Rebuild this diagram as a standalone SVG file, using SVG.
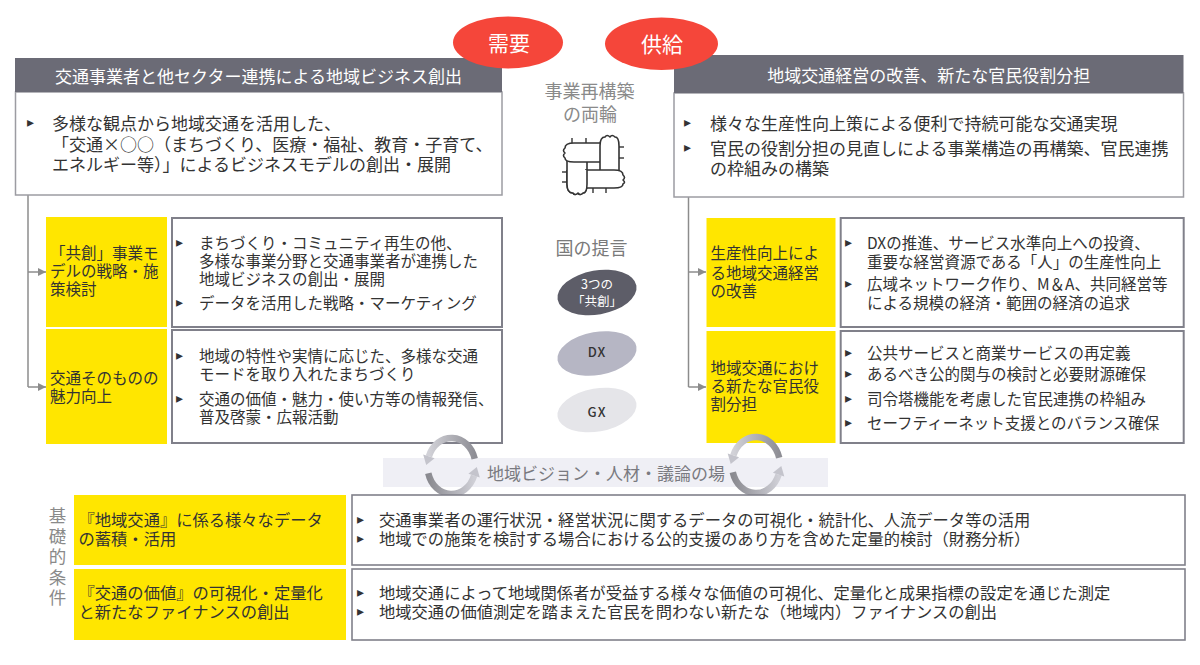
<svg xmlns="http://www.w3.org/2000/svg" width="1200" height="665" viewBox="0 0 1200 665">
<defs>
<style>
text{font-family:"Noto Sans CJK JP","Noto Sans",sans-serif;dominant-baseline:central}
.hd{fill:#6b6b76}
.hdt{fill:#fff;font-size:17px;text-anchor:middle}
.box{fill:#fff;stroke:#9c9ca2;stroke-width:1.5}
.wb{fill:#fff;stroke:#80808a;stroke-width:2}
.yb{fill:#ffe600}
.b17{fill:#333;font-size:17px}
.b155{fill:#333;font-size:15.5px}
.b163{fill:#333;font-size:16.3px}
.bul{font-family:"DejaVu Sans",sans-serif;font-size:14px;fill:#333}
.gl{fill:#8a8a8a;font-size:18px;text-anchor:middle}
.conn{stroke:#8c8c8c;stroke-width:1.5;fill:none}
.red{fill:#f5463a}
.redt{fill:#fff;font-size:21px;text-anchor:middle}
.hand{fill:#fff;stroke:#333;stroke-width:1.6;stroke-linejoin:round}
.tick{stroke:#333;stroke-width:1.4}
</style>
<marker id="ah" markerWidth="8" markerHeight="8" refX="8" refY="4" orient="auto" markerUnits="userSpaceOnUse"><path d="M0,0 L8,4 L0,8 z" fill="#8c8c8c"/></marker>
<linearGradient id="gTop" x1="0" y1="0" x2="1" y2="0"><stop offset="0" stop-color="#d2d2d8"/><stop offset="1" stop-color="#8e8e95"/></linearGradient>
<linearGradient id="gBot" x1="0" y1="0" x2="1" y2="0"><stop offset="0" stop-color="#8a8a90"/><stop offset="1" stop-color="#cfcfd6"/></linearGradient>
<g id="cyc">
<path d="M23.2,-7.2 A24,28 0 0 0 -22.6,-9.6" fill="none" stroke="url(#gTop)" stroke-width="6.5"/>
<polygon points="-16.9,-7.8 -28.3,-11.4 -25.3,-1" fill="#c4c4cc"/>
<path d="M-23.2,7.2 A24,28 0 0 0 22.6,9.6" fill="none" stroke="url(#gBot)" stroke-width="6.5"/>
<polygon points="28.3,11.4 16.9,7.8 25.3,1" fill="#c4c4cc"/>
</g>
</defs>
<rect width="1200" height="665" fill="#fff"/>

<g id="connectors">
<path class="conn" d="M28,195 V387"/>
<path class="conn" d="M28,272 H46" marker-end="url(#ah)"/>
<path class="conn" d="M28,387 H46" marker-end="url(#ah)"/>
<path class="conn" d="M688.5,197 V387"/>
<path class="conn" d="M688.5,272 H706" marker-end="url(#ah)"/>
<path class="conn" d="M688.5,387 H706" marker-end="url(#ah)"/>
</g>

<g id="demand-box">
<rect class="box" x="15.5" y="92" width="486.5" height="103"/>
<rect class="hd" x="15" y="58" width="487" height="34"/>
<text class="hdt" x="258.5" y="75">交通事業者と他セクター連携による地域ビジネス創出</text>
<text class="bul" x="27" y="122">▸</text>
<text class="b17"><tspan x="52" y="122">多様な観点から地域交通を活用した、</tspan><tspan x="52" y="143">「交通×○○（まちづくり、医療・福祉、教育・子育て、</tspan><tspan x="52" y="163">エネルギー等）」によるビジネスモデルの創出・展開</tspan></text>
</g>

<g id="supply-box">
<rect class="box" x="674" y="93" width="509.5" height="104"/>
<rect class="hd" x="674" y="55" width="509.5" height="38"/>
<text class="hdt" x="928.7" y="74">地域交通経営の改善、新たな官民役割分担</text>
<text class="bul"><tspan x="684" y="122">▸</tspan><tspan x="684" y="147">▸</tspan></text>
<text class="b17"><tspan x="710" y="122">様々な生産性向上策による便利で持続可能な交通実現</tspan><tspan x="710" y="147">官民の役割分担の見直しによる事業構造の再構築、官民連携</tspan><tspan x="710" y="167">の枠組みの構築</tspan></text>
</g>

<g id="kyoso-model">
<rect class="yb" x="46" y="217" width="121" height="110"/>
<text class="b155"><tspan x="50" y="252">「共創」事業モ</tspan><tspan x="50" y="270">デルの戦略・施</tspan><tspan x="50" y="288">策検討</tspan></text>
</g>
<g id="kyoso-model-detail">
<rect class="wb" x="172" y="218" width="330" height="109"/>
<text class="bul"><tspan x="176" y="242">▸</tspan><tspan x="176" y="302">▸</tspan></text>
<text class="b155"><tspan x="199" y="242">まちづくり・コミュニティ再生の他、</tspan><tspan x="199" y="260">多様な事業分野と交通事業者が連携した</tspan><tspan x="199" y="278">地域ビジネスの創出・展開</tspan><tspan x="199" y="302">データを活用した戦略・マーケティング</tspan></text>
</g>

<g id="transport-appeal">
<rect class="yb" x="46" y="329" width="121" height="115"/>
<text class="b155"><tspan x="50" y="377">交通そのものの</tspan><tspan x="50" y="395">魅力向上</tspan></text>
</g>
<g id="transport-appeal-detail">
<rect class="wb" x="172" y="330" width="330" height="113"/>
<text class="bul"><tspan x="176" y="355">▸</tspan><tspan x="176" y="398">▸</tspan></text>
<text class="b155"><tspan x="199" y="355">地域の特性や実情に応じた、多様な交通</tspan><tspan x="199" y="373">モードを取り入れたまちづくり</tspan><tspan x="199" y="398">交通の価値・魅力・使い方等の情報発信、</tspan><tspan x="199" y="416">普及啓蒙・広報活動</tspan></text>
</g>

<g id="productivity">
<rect class="yb" x="706.5" y="218" width="129" height="109"/>
<text class="b155"><tspan x="710.5" y="252">生産性向上によ</tspan><tspan x="710.5" y="272">る地域交通経営</tspan><tspan x="710.5" y="290">の改善</tspan></text>
</g>
<g id="productivity-detail">
<rect class="wb" x="840.7" y="218" width="343" height="109"/>
<text class="bul"><tspan x="845" y="242">▸</tspan><tspan x="845" y="283">▸</tspan></text>
<text class="b155"><tspan x="867" y="242">DXの推進、サービス水準向上への投資、</tspan><tspan x="867" y="261">重要な経営資源である「人」の生産性向上</tspan><tspan x="867" y="283">広域ネットワーク作り、M＆A、共同経営等</tspan><tspan x="867" y="302">による規模の経済・範囲の経済の追求</tspan></text>
</g>

<g id="role-sharing">
<rect class="yb" x="706.5" y="331" width="129" height="112"/>
<text class="b155"><tspan x="710.5" y="367">地域交通におけ</tspan><tspan x="710.5" y="385">る新たな官民役</tspan><tspan x="710.5" y="403">割分担</tspan></text>
</g>
<g id="role-sharing-detail">
<rect class="wb" x="840.7" y="331" width="343" height="112"/>
<text class="bul"><tspan x="845" y="352">▸</tspan><tspan x="845" y="373">▸</tspan><tspan x="845" y="398">▸</tspan><tspan x="845" y="422">▸</tspan></text>
<text class="b155"><tspan x="867" y="352">公共サービスと商業サービスの再定義</tspan><tspan x="867" y="373">あるべき公的関与の検討と必要財源確保</tspan><tspan x="867" y="398">司令塔機能を考慮した官民連携の枠組み</tspan><tspan x="867" y="422">セーフティーネット支援とのバランス確保</tspan></text>
</g>

<g id="demand-tag">
<ellipse class="red" cx="508" cy="42.5" rx="55" ry="26"/>
<text class="redt" x="509" y="42">需要</text>
</g>
<g id="supply-tag">
<ellipse class="red" cx="661.5" cy="43.7" rx="56.5" ry="26.3"/>
<text class="redt" x="662" y="43.3">供給</text>
</g>

<g id="two-wheels">
<text class="gl"><tspan x="589.5" y="90">事業再構築</tspan><tspan x="590" y="113">の両輪</tspan></text>
<g id="hands-icon">
<path class="hand" d="M567,160 L567,184 Q567,193 573,193 Q575,196 578,193 Q580,196 583,193 Q587,193 587,184 L587,160"/>
<path class="hand" d="M602,143 L574,143 Q565,143 565,148 Q562,150.5 565,153 Q562,155.5 565,158 Q565,162 574,162 L602,162"/>
<path class="hand" d="M600,175 L600,146 Q600,137 605,137 Q607,134 610,137 Q612,134 615,137 Q619,137 619,146 L619,175"/>
<path class="hand" d="M585,170 L614,170 Q623,170 623,175 Q626,177.5 623,180 Q626,182.5 623,184 Q623,188 614,188 L585,188"/>
<path class="hand" d="M567,170 L567,184 Q567,193 573,193 Q575,196 578,193 Q580,196 583,193 Q587,193 587,184 L587,170"/>
<line class="tick" x1="572" y1="138" x2="572" y2="143"/>
<line class="tick" x1="586" y1="138" x2="586" y2="143"/>
<line class="tick" x1="619" y1="147" x2="624" y2="147"/>
<line class="tick" x1="619" y1="158" x2="624" y2="158"/>
<line class="tick" x1="593" y1="188" x2="593" y2="193"/>
<line class="tick" x1="606" y1="188" x2="606" y2="193"/>
<line class="tick" x1="562" y1="172" x2="567" y2="172"/>
<line class="tick" x1="562" y1="182" x2="567" y2="182"/>
</g>
</g>

<g id="national-proposal">
<text class="gl" x="591.5" y="247" style="fill:#7a7a7a">国の提言</text>
</g>
<g id="kyoso3">
<ellipse cx="597" cy="292.5" rx="40" ry="22" fill="#5d5d68" transform="rotate(-10 597 292.5)"/>
<text fill="#fff" font-size="12.5" text-anchor="middle"><tspan x="597" y="283">3つの</tspan><tspan x="597" y="300">「共創」</tspan></text>
</g>
<g id="dx">
<ellipse cx="597" cy="353.5" rx="40" ry="21.5" fill="#b6b6c4" transform="rotate(-10 597 353.5)"/>
<text x="597" y="351" fill="#333" font-size="13" font-weight="500" letter-spacing="1" text-anchor="middle">DX</text>
</g>
<g id="gx">
<ellipse cx="597" cy="410" rx="40" ry="21.5" fill="#e5e5e9" transform="rotate(-10 597 410)"/>
<text x="597" y="411" fill="#333" font-size="13" font-weight="500" letter-spacing="1" text-anchor="middle">GX</text>
</g>

<g id="vision-band">
<rect x="383" y="458" width="445" height="29" fill="#efeff5"/>
<text x="606" y="472" fill="#7a7a80" font-size="17" text-anchor="middle">地域ビジョン・人材・議論の場</text>
<use href="#cyc" x="451.5" y="466"/>
<use href="#cyc" x="756" y="465"/>
</g>

<g id="foundation-label">
<text x="57.5" y="507" fill="#8a8a8a" font-size="17.5" style="writing-mode:vertical-rl;letter-spacing:3px">基礎的条件</text>
</g>

<g id="data-accumulation">
<rect class="yb" x="74" y="495" width="272" height="70"/>
<text class="b163"><tspan x="78.5" y="519">『地域交通』に係る様々なデータ</tspan><tspan x="78.5" y="538">の蓄積・活用</tspan></text>
</g>
<g id="data-accumulation-detail">
<rect class="wb" x="352" y="495" width="833" height="70" style="stroke-width:1.6"/>
<text class="bul"><tspan x="357" y="519">▸</tspan><tspan x="357" y="538">▸</tspan></text>
<text class="b163"><tspan x="379" y="519">交通事業者の運行状況・経営状況に関するデータの可視化・統計化、人流データ等の活用</tspan><tspan x="379" y="538">地域での施策を検討する場合における公的支援のあり方を含めた定量的検討（財務分析）</tspan></text>
</g>

<g id="value-visualization">
<rect class="yb" x="74" y="569" width="272" height="71"/>
<text class="b163"><tspan x="78.5" y="592">『交通の価値』の可視化・定量化</tspan><tspan x="78.5" y="611">と新たなファイナンスの創出</tspan></text>
</g>
<g id="value-visualization-detail">
<rect class="wb" x="352" y="569" width="833" height="71" style="stroke-width:1.6"/>
<text class="bul"><tspan x="357" y="592">▸</tspan><tspan x="357" y="611">▸</tspan></text>
<text class="b163"><tspan x="379" y="592">地域交通によって地域関係者が受益する様々な価値の可視化、定量化と成果指標の設定を通じた測定</tspan><tspan x="379" y="611">地域交通の価値測定を踏まえた官民を問わない新たな（地域内）ファイナンスの創出</tspan></text>
</g>
</svg>
